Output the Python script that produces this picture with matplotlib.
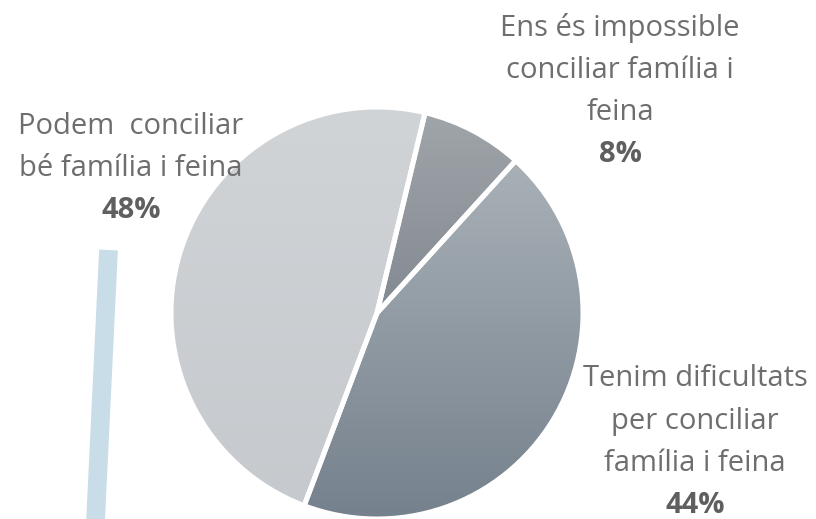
import numpy as np
import matplotlib
matplotlib.use("Agg")
import matplotlib.pyplot as plt
from matplotlib.colors import LinearSegmentedColormap

# Data
labels = ["Podem conciliar bé família i feina",
          "Tenim dificultats per conciliar família i feina",
          "Ens és impossible conciliar família i feina"]
values = [48, 44, 8]
label_lines = [["Podem  conciliar", "bé família i feina"],
               ["Tenim dificultats", "per conciliar", "família i feina"],
               ["Ens és impossible", "conciliar família i", "feina"]]
pct_text = ["48%", "44%", "8%"]

# Styles
top_colors = ["#D1D4D7", "#A9B1B7", "#A0A5AA"]
bot_colors = ["#C6C9CD", "#74808C", "#838991"]
text_color = "#6e6e6e"
pct_color = "#5f5f5f"

W, H = 816, 519
fig = plt.figure(figsize=(W / 100, H / 100), dpi=100)
cx, cy, r = 377, 313, 206
ax = fig.add_axes([(cx - r) / W, (H - cy - r) / H, 2 * r / W, 2 * r / H])

wedges, _ = ax.pie(values, startangle=76.5, counterclock=True,
                   colors=top_colors,
                   wedgeprops=dict(edgecolor="white", linewidth=3.6))
ax.set_aspect("equal")
ax.axis("off")

grad = np.linspace(1, 0, 256).reshape(-1, 1)
for w, c0, c1 in zip(wedges, top_colors, bot_colors):
    verts = w.get_path().vertices
    ys = w.get_patch_transform().transform(verts)[:, 1]
    ymin, ymax = ys.min(), ys.max()
    cmap = LinearSegmentedColormap.from_list("g", [c1, c0])
    im = ax.imshow(grad, cmap=cmap, extent=(-1, 1, ymin, ymax),
                   aspect="auto", zorder=0.5, interpolation="bilinear")
    im.set_clip_path(w)
    w.set_facecolor((1, 1, 1, 0))
    w.set_zorder(1)
ax.set_xlim(-1.0, 1.0)
ax.set_ylim(-1.0, 1.0)

# Label positions (pixels)
label_pos = [(131, 126), (695, 379), (620, 28)]
step = 42.3
font = "Open Sans"
fs = 21
for lines, pct, (x, y0) in zip(label_lines, pct_text, label_pos):
    for i, ln in enumerate(lines):
        fig.text(x / W, 1 - (y0 + i * step) / H, ln, ha="center", va="center",
                 fontsize=fs, color=text_color, family=font)
    fig.text(x / W, 1 - (y0 + len(lines) * step) / H, pct, ha="center",
             va="center", fontsize=fs, color=pct_color, family=font,
             fontweight="bold")

# Light blue bar
fig.add_artist(plt.Line2D([108.5 / W, 95.5 / W], [1 - 250 / H, 1 - 522 / H],
                          transform=fig.transFigure, color="#C9DDE8",
                          linewidth=13.5, solid_capstyle="butt"))

fig.savefig("out.png", dpi=100, facecolor="white")
